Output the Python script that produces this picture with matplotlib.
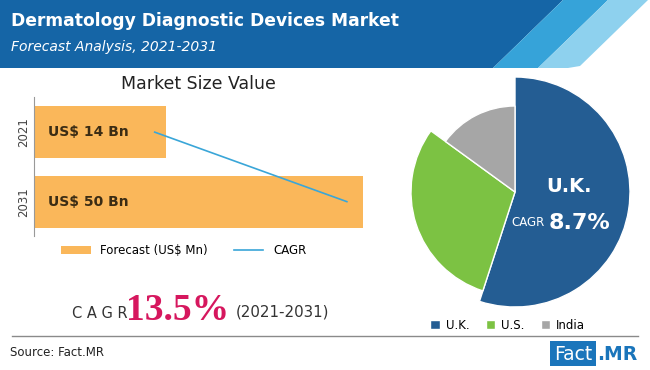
import numpy as np
import matplotlib
matplotlib.use("Agg")
import matplotlib.pyplot as plt
from matplotlib.patches import Polygon, Rectangle

# data
years = ["2021", "2031"]
bar_values = [20.0, 50.0]          # drawn bar length (same scale as axis)
bar_labels = ["US$ 14 Bn", "US$ 50 Bn"]
cagr_x = [18.3, 47.5]
countries = ["U.K.", "U.S.", "India"]
shares = [55, 30, 15]
radii = [1.15, 1.04, 0.86]
pie_colors = ["#245d93", "#7cc243", "#a6a6a6"]

W, H = 650, 370
fig = plt.figure(figsize=(W / 100, H / 100), dpi=100)

def box(x0, y0, x1, y1):
    return [x0 / W, 1 - y1 / H, (x1 - x0) / W, (y1 - y0) / H]

bg = fig.add_axes([0, 0, 1, 1], zorder=0)
bg.set_xlim(0, W)
bg.set_ylim(H, 0)
bg.axis("off")

# header band
bg.add_patch(Polygon([(0, 0), (563, 0), (493, 68), (0, 68)], color="#1565a6", lw=0))
bg.add_patch(Polygon([(563, 0), (608, 0), (538, 68), (493, 68)], color="#36a3d9", lw=0))
bg.add_patch(Polygon([(608, 0), (648, 0), (580, 66), (568, 68), (538, 68)], color="#8ed1ee", lw=0))
bg.text(11, 21, "Dermatology Diagnostic Devices Market", color="white", fontsize=12.3,
        fontweight="bold", va="center", ha="left")
bg.text(11, 47, "Forecast Analysis, 2021-2031", color="white", fontsize=10,
        style="italic", va="center", ha="left")

bg.text(198, 84, "Market Size Value", fontsize=12.5, color="#222222", ha="center", va="center")

# bottom CAGR
bg.text(72, 313, "C A G R", fontsize=10.5, color="#333333", ha="left", va="center")
bg.text(126, 311, "13.5%", fontsize=27, color="#d6175e", fontweight="bold",
        family="Liberation Serif", ha="left", va="center")
bg.text(236, 312, "(2021-2031)", fontsize=10.8, color="#333333", ha="left", va="center")

bg.plot([12, 638], [336, 336], color="#8a8a8a", lw=1)
bg.text(10, 353, "Source: Fact.MR", fontsize=8.5, color="#222222", ha="left", va="center")

# logo
bg.add_patch(Rectangle((550, 341), 46, 25, color="#1a75bb", lw=0))
bg.text(573, 354, "Fact", color="white", fontsize=13.5, ha="center", va="center")
bg.text(597, 354, ".MR", color="#1a75bb", fontsize=13.5, fontweight="bold", ha="left", va="center")

# bar chart
ax = fig.add_axes(box(34.3, 96.7, 363.3, 235.7), zorder=1)
ypos = np.arange(len(years))
bars = ax.barh(ypos, bar_values, height=0.75, color="#fab75a", label="Forecast (US$ Mn)")
line, = ax.plot(cagr_x, ypos, color="#3aa6d8", lw=1.2, label="CAGR")
for y, lab in zip(ypos, bar_labels):
    ax.text(2.1, y, lab, fontsize=10, fontweight="bold", color="#3b2c14", va="center", ha="left")
ax.set_xlim(0, 50)
ax.set_ylim(1.49, -0.51)
ax.set_yticks(ypos)
ax.set_yticklabels(years, rotation=90, va="center", fontsize=8.5, color="#444444")
ax.tick_params(axis="y", length=0, pad=3)
ax.set_xticks([])
for s in ["top", "right", "bottom"]:
    ax.spines[s].set_visible(False)
ax.spines["left"].set_color("#999999")
ax.patch.set_alpha(0)
ax.legend(handles=[bars, line], loc="center left", bbox_to_anchor=(0.05, -0.11),
          ncol=2, frameon=False, fontsize=8.5, handlelength=2.5, columnspacing=2.2,
          handletextpad=0.8)

# pie
pax = fig.add_axes(box(395, 72, 635, 312), zorder=1)
wedges, _ = pax.pie(shares, colors=pie_colors, startangle=90, counterclock=False,
                    wedgeprops=dict(edgecolor="white", linewidth=1))
for w, r in zip(wedges, radii):
    w.set_radius(r)
pax.set_xlim(-1.2, 1.2)
pax.set_ylim(-1.2, 1.2)
pax.set_aspect("equal")
pax.text(0.54, 0.05, "U.K.", color="white", fontsize=14, fontweight="bold", ha="center", va="center")
pax.text(0.13, -0.31, "CAGR", color="white", fontsize=8.5, ha="center", va="center")
pax.text(0.64, -0.31, "8.7%", color="white", fontsize=16, fontweight="bold", ha="center", va="center")
pax.legend(wedges, countries, loc="center", bbox_to_anchor=(0.47, -0.055), ncol=3,
           frameon=False, fontsize=8.5, handlelength=0.8, handleheight=0.8,
           columnspacing=1.4, handletextpad=0.5)

fig.savefig("out.png", dpi=100)
